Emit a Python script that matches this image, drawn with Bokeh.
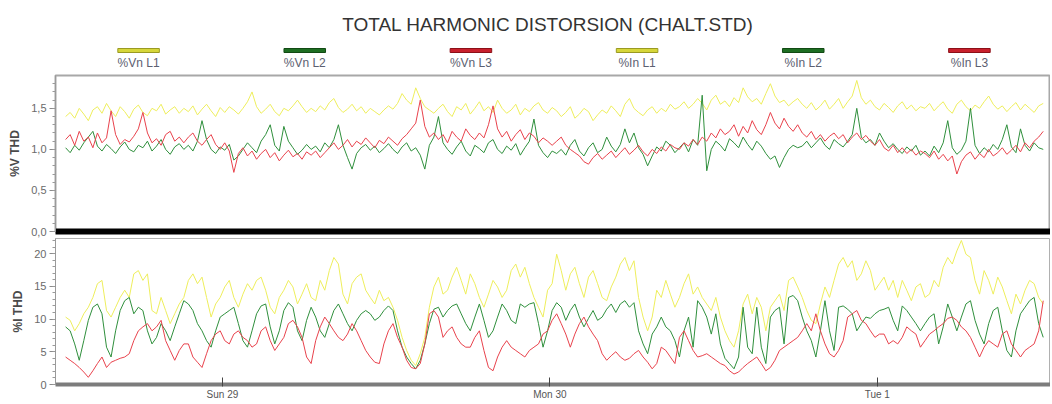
import numpy as np
from bokeh.plotting import figure
from bokeh.layouts import column
from bokeh.models import Range1d, FixedTicker, ColumnDataSource
from bokeh.embed import file_html
from bokeh.resources import INLINE
from bokeh.core.properties import value

FONT = "Liberation Sans"

title_text = "TOTAL HARMONIC DISTORSION (CHALT.STD)"
series_names = ["%Vn L1", "%Vn L2", "%Vn L3", "%In L1", "%In L2", "%In L3"]
day_ticks = [12, 36, 60]
day_labels = ["Sun 29", "Mon 30", "Tue 1"]
v_ticks = [0.0, 0.5, 1.0, 1.5]
v_labels = ["0,0", "0,5", "1,0", "1,5"]
i_ticks = [0, 5, 10, 15, 20]
i_labels = ["0", "5", "10", "15", "20"]

# samples every 20 minutes, starting Sat 28 12:30 (hours from Sat 28 12:00)
t_start_h = 0.5
t_step_h = 1.0 / 3.0

vn_l1 = [
    1.40, 1.45, 1.38, 1.50, 1.43, 1.35, 1.48, 1.52, 1.44, 1.56, 1.47, 1.40, 1.52, 1.46, 1.38, 1.49, 1.54, 1.45, 1.41, 1.50, 1.47, 1.55, 1.43, 1.48, 1.52, 1.44, 1.50,
    1.46, 1.53, 1.42, 1.49, 1.55, 1.47, 1.40, 1.51, 1.45, 1.52, 1.48, 1.43, 1.50, 1.58, 1.70, 1.52, 1.44, 1.49, 1.55, 1.46, 1.41, 1.50, 1.47, 1.53, 1.60, 1.52, 1.45,
    1.50, 1.46, 1.53, 1.48, 1.57, 1.62, 1.51, 1.45, 1.49, 1.55, 1.47, 1.52, 1.44, 1.50, 1.46, 1.42, 1.48, 1.53, 1.49, 1.56, 1.68, 1.60, 1.55, 1.75, 1.62, 1.52, 1.48,
    1.44, 1.50, 1.55, 1.46, 1.40, 1.52, 1.48, 1.56, 1.43, 1.50, 1.58, 1.47, 1.52, 1.45, 1.60, 1.50, 1.44, 1.48, 1.55, 1.42, 1.50, 1.46, 1.53, 1.57, 1.48, 1.44, 1.51,
    1.47, 1.40, 1.45, 1.52, 1.38, 1.43, 1.50, 1.46, 1.35, 1.42, 1.48, 1.44, 1.53, 1.47, 1.40, 1.55, 1.62, 1.50, 1.45, 1.41, 1.48, 1.52, 1.44, 1.50, 1.46, 1.55, 1.49,
    1.52, 1.58, 1.50, 1.55, 1.62, 1.56, 1.48, 1.60, 1.66, 1.55, 1.59, 1.52, 1.63, 1.57, 1.75, 1.64, 1.58, 1.62, 1.55, 1.68, 1.80, 1.65, 1.57, 1.60, 1.53, 1.58, 1.62,
    1.55, 1.50, 1.57, 1.48, 1.53, 1.60, 1.49, 1.55, 1.62, 1.50, 1.58, 1.65, 1.84, 1.63, 1.55, 1.60, 1.52, 1.48, 1.56, 1.51, 1.45, 1.53, 1.58, 1.49, 1.54, 1.47, 1.52,
    1.50, 1.56, 1.47, 1.53, 1.58, 1.49, 1.44, 1.55, 1.60, 1.52, 1.47, 1.54, 1.50, 1.58, 1.65, 1.55, 1.49, 1.53, 1.46, 1.52, 1.57, 1.48, 1.55, 1.50, 1.45, 1.53, 1.56,
]
vn_l2 = [
    1.02, 0.96, 1.05, 0.99, 1.08, 1.15, 1.22, 1.04, 0.98, 1.06, 1.01, 0.95, 1.03, 1.09, 1.00, 0.97, 1.05, 1.02, 1.10, 0.98, 1.04, 1.12, 1.00, 0.94, 1.03, 1.07, 1.00,
    1.05, 0.98, 1.10, 1.35, 1.12, 1.00, 0.95, 1.03, 0.99, 1.06, 0.87, 0.92, 1.00, 1.08, 1.02, 0.96, 1.10, 1.18, 1.30, 1.05, 0.98, 1.28, 1.10, 1.02, 0.94, 0.99, 1.06,
    1.00, 1.04, 0.97, 1.08, 1.02, 1.12, 1.30, 1.05, 0.90, 0.76, 0.95, 1.02, 1.06, 0.99, 1.04, 0.96, 1.01, 1.07, 1.00, 0.95, 1.03, 1.08, 0.98, 1.02, 0.93, 0.76, 1.05,
    1.15, 1.40, 1.08, 1.00, 0.94, 1.03, 1.10, 0.98, 0.92, 1.05, 1.01, 0.96, 1.08, 1.12, 1.00, 0.95, 1.04, 0.99, 1.07, 0.93, 1.02, 1.10, 1.37, 1.05, 0.96, 0.90, 0.98,
    0.95, 1.00, 0.93, 1.05, 1.12, 0.98, 0.92, 1.02, 1.08, 0.96, 1.00, 1.15, 1.04, 0.97, 1.06, 1.25, 1.08, 1.20, 1.02, 0.94, 0.80, 0.92, 1.03, 0.98, 1.10, 1.05, 0.96,
    1.02, 1.08, 0.97, 1.12, 1.05, 1.66, 0.74, 1.00, 1.10, 1.05, 0.98, 1.13, 1.08, 1.02, 1.15, 1.06, 0.99, 1.10, 1.04, 0.95, 0.88, 0.92, 0.78, 0.90, 1.00, 1.05, 1.02,
    1.04, 1.10, 1.02, 1.08, 1.14, 1.05, 1.00, 1.12, 1.07, 1.03, 1.10, 1.18, 1.50, 1.15, 1.08, 1.12, 1.05, 1.20, 1.10, 1.02, 1.07, 1.00, 0.95, 1.03, 0.98, 1.05, 0.93,
    0.98, 0.92, 1.04, 0.96, 1.08, 1.35, 1.02, 0.94, 0.99, 1.10, 1.50, 1.05, 0.95, 1.02, 0.97, 1.06, 1.00, 1.12, 1.30, 1.03, 0.96, 1.25, 1.05, 0.98, 1.08, 1.02, 1.00,
]
vn_l3 = [
    1.12, 1.18, 1.05, 1.22, 1.10, 1.15, 1.02, 1.20, 1.08, 1.14, 1.47, 1.18, 1.06, 1.12, 1.09, 1.16, 1.25, 1.45, 1.20, 1.08, 1.13, 1.05, 1.18, 1.22, 1.10, 1.15, 1.08,
    1.15, 1.20, 1.10, 1.05, 1.12, 1.18, 1.06, 1.00, 1.08, 0.98, 0.72, 0.95, 1.02, 0.92, 0.98, 0.88, 0.95, 1.00, 0.90, 0.96, 0.86, 0.93, 0.99, 0.91, 0.95, 0.88, 0.97,
    0.93, 0.98, 0.90, 0.96, 1.02, 1.08, 1.00, 1.05, 1.12, 1.03, 1.10, 1.06, 1.14, 1.08, 1.02, 1.11, 1.07, 1.15, 1.10, 1.05, 1.13, 1.18, 1.25, 1.32, 1.60, 1.28, 1.15,
    1.20, 1.12, 1.18, 1.08, 1.22, 1.15, 1.10, 1.25, 1.17, 1.12, 1.20, 1.14, 1.30, 1.53, 1.25, 1.15, 1.22, 1.10, 1.18, 1.24, 1.12, 1.20, 1.16, 1.08, 1.14, 1.10, 1.05,
    1.10, 1.15, 1.05, 1.00, 0.96, 0.92, 0.85, 0.82, 0.90, 0.95, 0.88, 0.93, 0.98, 0.90, 0.96, 1.02, 0.94, 0.99, 1.05, 0.97, 0.92, 1.00, 0.95, 1.03, 0.98, 1.06, 1.02,
    1.00, 1.08, 1.04, 1.12, 1.06, 1.15, 1.10, 1.20, 1.14, 1.25, 1.18, 1.22, 1.30, 1.16, 1.28, 1.20, 1.35, 1.24, 1.18, 1.30, 1.45, 1.32, 1.25, 1.38, 1.28, 1.22, 1.30,
    1.20, 1.15, 1.22, 1.12, 1.18, 1.10, 1.16, 1.20, 1.13, 1.18, 1.08, 1.15, 1.20, 1.12, 1.17, 1.10, 1.05, 1.12, 1.02, 0.98, 1.05, 0.96, 1.02, 0.95, 1.00, 0.93, 0.98,
    0.95, 0.90, 0.98, 0.88, 0.94, 0.86, 0.92, 0.70, 0.85, 0.93, 0.97, 0.88, 0.95, 0.90, 1.00, 0.92, 0.96, 1.02, 0.94, 0.99, 1.05, 0.97, 1.08, 1.02, 1.10, 1.15, 1.22,
]
in_l1 = [
    10.3, 9.8, 8.2, 9.3, 10.8, 11.8, 13.3, 15.4, 15.9, 11.3, 10.3, 11.8, 13.3, 14.4, 13.3, 16.9, 17.4, 15.9, 16.9, 11.3, 10.8, 13.3, 11.3, 9.3, 10.8, 12.3, 13.3,
    15.9, 16.9, 15.4, 16.4, 13.3, 10.3, 12.3, 13.3, 14.9, 15.9, 13.3, 11.8, 13.8, 15.4, 14.4, 15.9, 16.4, 14.4, 11.8, 10.8, 13.3, 14.4, 15.9, 14.9, 12.3, 13.8, 15.4,
    13.3, 12.8, 15.9, 14.4, 17.4, 19.4, 18.4, 13.8, 12.3, 15.4, 16.4, 16.9, 14.4, 13.3, 12.3, 14.4, 12.8, 13.3, 11.8, 9.8, 7.2, 5.2, 3.7, 2.9, 4.7, 7.2, 11.8,
    14.9, 16.4, 13.8, 14.4, 16.4, 17.9, 15.9, 13.8, 16.9, 15.4, 13.3, 11.8, 13.8, 15.9, 14.9, 13.3, 14.4, 17.4, 18.4, 16.4, 17.9, 15.4, 13.3, 11.8, 10.3, 14.4, 15.4,
    19.9, 17.4, 14.4, 16.9, 17.9, 15.4, 13.3, 16.4, 17.4, 15.4, 13.3, 12.8, 14.9, 16.4, 18.4, 19.4, 17.4, 18.9, 13.3, 10.3, 8.2, 10.3, 14.4, 13.3, 15.9, 13.8, 11.8,
    13.3, 15.4, 16.9, 13.8, 14.9, 13.3, 12.3, 11.3, 13.3, 10.3, 8.2, 6.7, 5.7, 8.2, 12.3, 13.8, 10.8, 13.3, 11.8, 8.2, 11.8, 12.8, 13.8, 11.3, 15.9, 16.4, 14.9,
    13.3, 11.3, 9.8, 9.3, 12.3, 14.9, 13.3, 15.9, 18.4, 19.4, 17.9, 18.9, 15.9, 16.9, 18.9, 17.4, 14.4, 15.4, 16.4, 14.4, 15.9, 13.3, 15.9, 14.4, 12.8, 14.9, 15.4,
    13.3, 13.8, 15.9, 14.9, 17.9, 19.4, 18.4, 20.4, 22.0, 19.9, 19.4, 15.9, 13.8, 17.4, 15.9, 13.8, 16.4, 14.9, 12.8, 10.8, 13.8, 12.3, 14.4, 15.9, 15.4, 13.3, 12.3,
]
in_l2 = [
    8.8, 8.2, 6.2, 3.7, 6.7, 9.8, 11.8, 12.3, 10.8, 5.7, 4.2, 8.2, 11.3, 12.8, 13.3, 10.8, 11.8, 11.3, 8.2, 6.2, 7.2, 9.3, 8.2, 6.7, 8.8, 10.8, 12.8,
    12.3, 11.3, 9.3, 8.2, 6.7, 5.7, 8.2, 10.3, 10.8, 11.3, 11.8, 9.3, 6.7, 5.7, 8.2, 10.8, 12.0, 12.3, 8.8, 6.2, 8.2, 11.3, 12.5, 11.8, 8.2, 6.7, 9.8,
    11.8, 10.3, 8.2, 7.2, 9.3, 11.3, 12.3, 10.8, 9.3, 8.2, 9.8, 10.8, 11.3, 10.8, 9.8, 10.3, 11.3, 12.0, 11.3, 8.2, 5.7, 4.2, 3.2, 2.4, 3.7, 6.2, 9.3,
    11.5, 11.8, 10.3, 11.3, 12.0, 12.3, 10.8, 9.3, 8.2, 10.3, 12.3, 9.8, 7.2, 8.2, 10.3, 12.3, 11.3, 9.8, 9.3, 12.3, 11.8, 12.3, 12.5, 9.3, 5.7, 8.2, 11.3,
    12.5, 11.8, 9.8, 11.3, 12.3, 10.3, 8.8, 10.1, 11.3, 9.8, 10.3, 11.5, 12.3, 11.0, 12.3, 12.8, 11.8, 12.5, 8.2, 6.2, 4.7, 7.7, 8.8, 10.3, 8.8, 8.2, 6.7,
    4.2, 8.2, 10.3, 5.7, 12.8, 11.8, 10.3, 7.7, 10.8, 6.2, 4.0, 3.2, 2.4, 4.2, 11.8, 5.7, 4.7, 11.8, 5.7, 3.2, 10.3, 11.3, 11.8, 6.2, 13.3, 13.6, 12.8,
    10.3, 8.2, 6.7, 4.2, 8.2, 12.8, 8.2, 5.2, 11.8, 12.0, 11.5, 10.8, 8.2, 9.3, 10.3, 10.1, 10.8, 11.3, 11.5, 11.8, 9.8, 8.2, 12.0, 11.3, 10.3, 9.3, 8.2,
    9.3, 10.3, 10.8, 6.2, 8.8, 12.3, 10.3, 8.2, 10.3, 12.3, 12.8, 9.8, 7.7, 6.2, 9.3, 11.3, 11.8, 8.2, 5.2, 4.2, 8.2, 10.8, 11.8, 12.8, 13.3, 9.3, 7.2,
]
in_l3 = [
    4.2, 3.7, 3.2, 2.6, 1.9, 1.1, 2.1, 3.2, 4.2, 2.6, 3.4, 3.7, 4.0, 4.2, 4.7, 6.7, 8.2, 8.8, 9.3, 8.2, 8.8, 9.8, 6.7, 5.2, 3.7, 5.2, 6.2,
    6.2, 4.2, 3.4, 2.6, 4.7, 6.7, 7.7, 8.2, 6.7, 6.2, 7.7, 8.2, 7.2, 6.7, 5.7, 6.2, 8.2, 8.8, 6.7, 5.2, 6.2, 7.2, 9.3, 9.8, 8.8, 7.2, 4.2,
    3.2, 6.7, 8.8, 10.3, 9.3, 8.2, 7.2, 6.7, 7.7, 9.3, 8.2, 6.7, 5.2, 4.2, 3.4, 3.2, 6.2, 8.2, 9.3, 7.2, 5.7, 3.7, 2.6, 2.4, 3.2, 6.2, 10.8,
    11.3, 10.3, 7.2, 8.2, 8.8, 7.2, 6.2, 5.7, 5.7, 7.2, 8.2, 5.2, 2.6, 2.1, 4.2, 5.7, 6.7, 5.7, 5.2, 4.7, 4.2, 5.2, 5.7, 6.2, 7.7, 8.2, 9.8,
    10.8, 9.3, 7.7, 5.7, 7.7, 9.3, 10.3, 8.8, 7.7, 6.7, 4.7, 3.7, 4.4, 5.0, 4.2, 3.7, 4.0, 4.7, 5.2, 4.2, 3.4, 2.4, 3.2, 5.7, 5.2, 4.2, 3.2,
    7.2, 8.2, 6.7, 5.2, 4.2, 4.4, 4.7, 4.2, 3.7, 3.2, 2.9, 2.1, 1.6, 1.9, 2.6, 3.2, 3.7, 4.2, 3.2, 2.1, 2.6, 3.7, 5.2, 5.7, 6.2, 6.7, 7.2,
    8.2, 9.3, 8.2, 10.8, 8.2, 6.2, 4.7, 4.2, 5.2, 6.7, 10.3, 10.8, 11.3, 9.8, 9.3, 8.2, 7.2, 7.7, 7.7, 6.2, 6.7, 6.2, 7.2, 8.8, 8.2, 7.7, 5.7,
    6.7, 7.7, 8.2, 8.8, 9.3, 10.1, 10.3, 9.8, 8.8, 8.2, 7.2, 5.7, 4.2, 5.7, 6.7, 6.2, 5.7, 7.7, 8.2, 6.2, 5.2, 4.2, 5.2, 5.7, 6.2, 8.2, 12.8,
]

line_colors = ["#eeee5c", "#2f8f3c", "#e8424c"]
swatch_fill = ["#d6d63a", "#1e6e22", "#c8202c"]
swatch_edge = ["#9a9a22", "#124a14", "#8c1018"]


def hours(series):
    return t_start_h + t_step_h * np.arange(len(series))


FRAME_W = 995
LEFT = 55
x_range = Range1d(-0.24, 72.7)

# ---------- header: title + legend ----------
header = figure(frame_width=997, frame_height=73, min_border_left=53, min_border_right=0,
                min_border_top=0, min_border_bottom=0,
                x_range=Range1d(0, 6), y_range=Range1d(0, 73),
                x_axis_type=None, y_axis_type=None,
                toolbar_location=None, output_backend="svg")
header.outline_line_color = None
header.text(x=[2.963], y=[49], text=[title_text], text_font=value(FONT), text_font_size="19px",
            text_align="center", text_baseline="middle", text_color="#333333")
leg_src = ColumnDataSource(dict(x=np.arange(len(series_names)) + 0.5, name=series_names,
                                fill=swatch_fill * 2, edge=swatch_edge * 2))
header.rect(x="x", y=23, width=0.25, height=4, fill_color="fill", line_color="edge",
            line_width=1, source=leg_src)
header.text(x="x", y=11, text="name", source=leg_src, text_font=value(FONT),
            text_font_size="12px", text_align="center", text_baseline="middle",
            text_color="#5c6070")


def style_y(p, ticks, labels, minor, label):
    ax = p.yaxis[0]
    ax.ticker = FixedTicker(ticks=ticks, minor_ticks=minor)
    ax.major_label_overrides = dict(zip(ticks, labels))
    ax.major_label_text_font = FONT
    ax.major_label_text_font_size = "11px"
    ax.major_label_text_color = "#6a6a6a"
    ax.major_label_standoff = 3
    ax.axis_line_color = "#9a9a9a"
    ax.major_tick_line_color = "#8a8a8a"
    ax.minor_tick_line_color = "#9a9a9a"
    ax.major_tick_out = 6
    ax.major_tick_in = 0
    ax.minor_tick_out = 3
    ax.minor_tick_in = 0
    ax.axis_label = label
    ax.axis_label_text_font = FONT
    ax.axis_label_text_font_size = "12px"
    ax.axis_label_text_font_style = "bold"
    ax.axis_label_text_color = "#4a4a4a"
    ax.axis_label_standoff = 6


# ---------- top panel: %V THD ----------
top = figure(frame_width=FRAME_W, frame_height=156, min_border_left=LEFT, min_border_right=0,
             min_border_top=2, min_border_bottom=7, x_range=x_range, y_range=Range1d(0, 1.9),
             toolbar_location=None, output_backend="svg")
top.grid.visible = False
top.outline_line_color = "#a8a8a8"
top.outline_line_width = 2
for s, c in zip([vn_l1, vn_l2, vn_l3], line_colors):
    top.line(hours(s), s, line_color=c, line_width=1)
style_y(top, v_ticks, v_labels, [round(0.1 * k, 1) for k in range(19)], "%V THD")
xa = top.xaxis[0]
xa.ticker = FixedTicker(ticks=[])
xa.major_label_text_font_size = "0px"
xa.major_tick_line_color = None
xa.minor_tick_line_color = None
xa.major_label_standoff = 0
xa.axis_line_color = "black"
xa.axis_line_width = 6

# ---------- bottom panel: %I THD ----------
bot = figure(frame_width=FRAME_W, frame_height=146, min_border_left=LEFT, min_border_right=0,
             min_border_top=0, min_border_bottom=0, x_range=x_range, y_range=Range1d(0, 22.3),
             toolbar_location=None, output_backend="svg")
bot.grid.visible = False
bot.outline_line_color = "#b0b0b0"
bot.outline_line_width = 1
for s, c in zip([in_l1, in_l2, in_l3], line_colors):
    bot.line(hours(s), s, line_color=c, line_width=1)
style_y(bot, i_ticks, i_labels, list(range(23)), "%I THD")
xb = bot.xaxis[0]
xb.ticker = FixedTicker(ticks=day_ticks)
xb.major_label_overrides = dict(zip(day_ticks, day_labels))
xb.major_label_text_font = FONT
xb.major_label_text_font_size = "10px"
xb.major_label_text_color = "#555555"
xb.major_label_standoff = 2
xb.major_tick_in = 7
xb.major_tick_out = 2
xb.major_tick_line_color = "#444444"
xb.minor_tick_line_color = None
xb.axis_line_color = "#7c7c7c"
xb.axis_line_width = 4

layout = column(header, top, bot, spacing=0)
open("out.html", "w").write(file_html(layout, INLINE))
